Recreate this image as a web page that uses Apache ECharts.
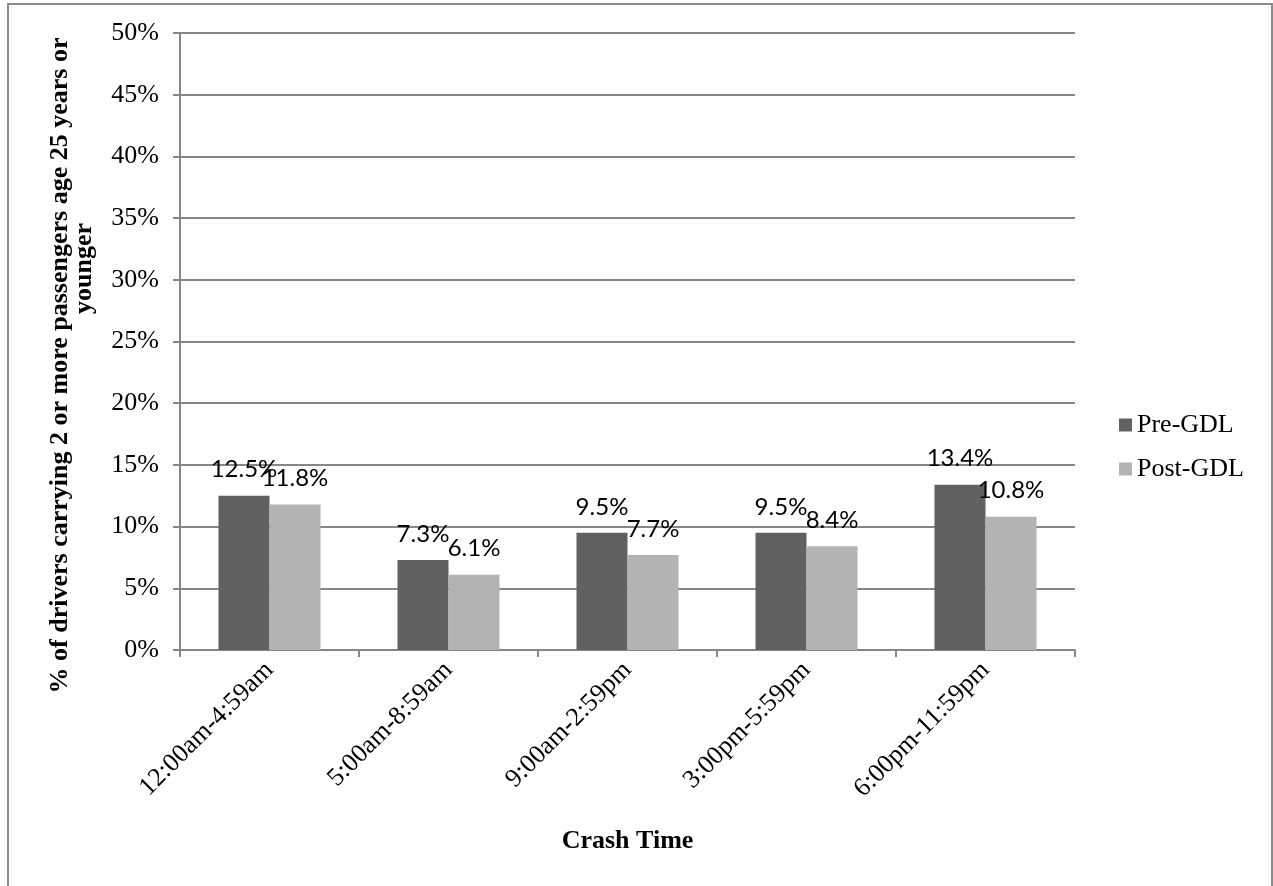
<!DOCTYPE html>
<html>
<head>
<meta charset="utf-8">
<script src="https://cdn.jsdelivr.net/npm/echarts@6/dist/echarts.min.js"></script>
<style>
    html, body { margin: 0; padding: 0; background: #fff; }
    #chart { width: 1273px; height: 886px; }
</style>
</head>
<body>
<div id="chart"></div>
<script>
// 数据
var categories = ['12:00am-4:59am', '5:00am-8:59am', '9:00am-2:59pm', '3:00pm-5:59pm', '6:00pm-11:59pm'];
var preGDL = [12.5, 7.3, 9.5, 9.5, 13.4];
var postGDL = [11.8, 6.1, 7.7, 8.4, 10.8];
var seriesNames = ['Pre-GDL', 'Post-GDL'];

(function() {
    var myChart = echarts.init(document.getElementById('chart'));
    var serif = '"Liberation Serif", "Times New Roman", serif';
    var axisGray = '#868686';

    // 柱子上的数值标签
    var barLabel = {
        show: true,
        position: 'top',
        distance: 14,
        color: '#000',
        fontFamily: 'Lato, "Open Sans", sans-serif',
        fontSize: 24,
        formatter: function(p) { return p.value.toFixed(1) + '%'; }
    };

    var option = {
        animation: false,
        backgroundColor: '#fff',
        // 外边框
        graphic: [{
            type: 'rect',
            shape: { x: 8, y: 4, width: 1264, height: 900 },
            style: { fill: 'none', stroke: '#8c8c8c', lineWidth: 2 },
            silent: true
        }],
        color: ['#616161', '#b3b3b3'],
        grid: {
            left: 180,
            right: 198,
            top: 33,
            bottom: 236
        },
        legend: {
            orient: 'vertical',
            left: 1114,
            top: 407,
            icon: 'rect',
            itemWidth: 13,
            itemHeight: 13,
            itemGap: 18,
            textStyle: { fontFamily: serif, fontSize: 26, color: '#000' },
            data: seriesNames
        },
        xAxis: {
            type: 'category',
            data: categories,
            name: 'Crash Time',
            nameLocation: 'middle',
            nameGap: 178,
            nameMoveOverlap: false,
            nameTextStyle: { fontFamily: serif, fontSize: 26, fontWeight: 'bold', color: '#000' },
            axisLine: { lineStyle: { color: axisGray, width: 2 } },
            axisTick: { show: true, length: 7, lineStyle: { color: axisGray, width: 2 } },
            axisLabel: {
                rotate: 45,
                margin: 16,
                fontFamily: serif,
                fontSize: 26,
                color: '#000'
            }
        },
        yAxis: {
            type: 'value',
            min: 0,
            max: 50,
            interval: 5,
            name: '{a|% of drivers carrying 2 or more passengers age 25 years or}\n{b|younger}',
            nameLocation: 'middle',
            nameGap: 84,
            nameMoveOverlap: false,
            nameTextStyle: {
                fontFamily: serif, fontSize: 26, fontWeight: 'bold', color: '#000',
                padding: [0, 48, 0, 0],
                rich: {
                    a: { fontFamily: serif, fontSize: 26, fontWeight: 'bold', color: '#000', lineHeight: 24 },
                    b: { fontFamily: serif, fontSize: 26, fontWeight: 'bold', color: '#000', lineHeight: 24, padding: [0, 0, 0, 194] }
                }
            },
            axisLine: { show: true, lineStyle: { color: axisGray, width: 2 } },
            axisTick: { show: true, length: 7, lineStyle: { color: axisGray, width: 2 } },
            axisLabel: {
                formatter: '{value}%',
                margin: 21,
                fontFamily: serif,
                fontSize: 26,
                color: '#000'
            },
            splitLine: { lineStyle: { color: axisGray, width: 2 } }
        },
        series: [{
            name: seriesNames[0],
            type: 'bar',
            data: preGDL,
            barGap: '0%',
            barCategoryGap: '43%',
            label: barLabel
        }, {
            name: seriesNames[1],
            type: 'bar',
            data: postGDL,
            label: barLabel
        }]
    };
    myChart.setOption(option);
})();
</script>
</body>
</html>
